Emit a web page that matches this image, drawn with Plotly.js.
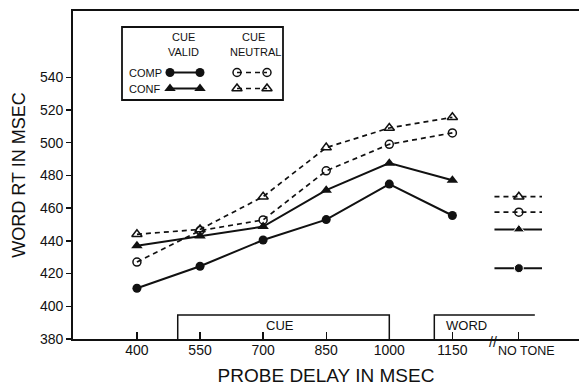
<!DOCTYPE html>
<html>
<head>
<meta charset="utf-8">
<script src="https://cdn.plot.ly/plotly-3.0.1.min.js"></script>
<style>html,body{margin:0;padding:0;background:#fff}#chart{width:579px;height:387px}</style>
</head>
<body>
<div id="chart"></div>
<script>
// ---- data ----
const probeDelays = [400, 550, 700, 850, 1000, 1150];
const noToneX = 1308;
const compValid   = [411, 424.5, 440.5, 453, 474.7, 455.5];
const confValid   = [437, 443, 448.7, 471, 487.5, 477];
const compNeutral = [427, 446.3, 452.8, 482.8, 499, 506];
const confNeutral = [444, 447, 467, 497, 509, 515.5];
const noTone = {compValid: 423.3, confValid: 447, compNeutral: 457.5, confNeutral: 467};
const xTickVals = [400, 550, 700, 850, 1000, 1150, 1308];
const xTickText = ['400', '550', '700', '850', '1000', '1150', ''];
const noToneLabel = 'NO TONE';
const yTickVals = [380, 400, 420, 440, 460, 480, 500, 520, 540];
// event bars under the axis
const cueStart = 497, cueEnd = 1000, wordStart = 1107, wordEnd = 1346, barTop = 394.7;

const FONT = 'Liberation Sans, Arial, sans-serif';
const INK = '#111';

const solid = {color: INK, width: 2};
const dashed = {color: INK, width: 1.7, dash: '5px,4px'};
const mk = {
  compValid: {symbol: 'circle', size: 9, color: INK, opacity: 1},
  confValid: {symbol: 'triangle-up', size: 10, color: INK, opacity: 1},
  compNeutral: {symbol: 'circle-open', size: 8, color: INK, opacity: 1, line: {width: 1.5, color: INK}},
  confNeutral: {symbol: 'triangle-up-open', size: 9, color: INK, opacity: 1, line: {width: 1.5, color: INK}}
};
function main(y, key, line) {
  return {x: probeDelays, y: y, mode: 'lines+markers', line: line, marker: mk[key], showlegend: false, hoverinfo: 'skip', cliponaxis: false};
}
function nt(key, line) {
  const v = noTone[key];
  const m = Object.assign({}, mk[key], {size: [0, mk[key].size, 0], opacity: 1});
  return {x: [noToneX - 58, noToneX, noToneX + 55], y: [v, v, v], mode: 'lines+markers', line: line, marker: m, showlegend: false, hoverinfo: 'skip'};
}
// legend samples on an overlay axis measured in pixels from the plot's top-left
function key(x0, x1, y, k, line) {
  return {x: [x0, x1], y: [y, y], xaxis: 'x2', yaxis: 'y2', mode: 'lines+markers', line: line, marker: mk[k], showlegend: false, hoverinfo: 'skip'};
}
const traces = [
  main(compValid, 'compValid', solid),
  main(confValid, 'confValid', solid),
  main(compNeutral, 'compNeutral', dashed),
  main(confNeutral, 'confNeutral', dashed),
  nt('confNeutral', dashed), nt('compNeutral', dashed), nt('confValid', solid), nt('compValid', solid),
  key(97, 127, 61.5, 'compValid', solid),
  key(97, 127, 77.5, 'confValid', solid),
  key(164, 194, 61.5, 'compNeutral', dashed),
  key(164, 194, 77.5, 'confNeutral', dashed)
];

const ann = (x, y, t, size, extra) => Object.assign({x: x, y: y, text: t, showarrow: false, font: {family: FONT, size: size, color: INK}}, extra || {});
const layout = {
  width: 579, height: 387,
  margin: {l: 73, r: 0, t: 11, b: 48},
  paper_bgcolor: '#fff', plot_bgcolor: '#fff',
  font: {family: FONT, color: INK},
  xaxis: {
    range: [248, 1451], showgrid: false, zeroline: false,
    showline: true, mirror: true, linecolor: INK, linewidth: 1.8,
    ticks: 'inside', ticklen: 7, tickwidth: 1.3, tickcolor: INK,
    tickvals: xTickVals, ticktext: xTickText, ticklabelstandoff: -3,
    tickfont: {family: FONT, size: 14, color: INK},
    title: {text: 'PROBE DELAY IN MSEC', font: {family: FONT, size: 19, color: INK}, standoff: 12}
  },
  yaxis: {
    range: [380, 580.5], showgrid: false, zeroline: false,
    showline: true, linecolor: INK, linewidth: 1.8,
    ticks: 'outside', ticklen: 5, tickwidth: 1.3, tickcolor: INK,
    tickvals: yTickVals, tickfont: {family: FONT, size: 14, color: INK},
    title: {text: 'WORD RT IN MSEC', font: {family: FONT, size: 18, color: INK}, standoff: 10}
  },
  xaxis2: {overlaying: 'x', range: [0, 506], visible: false, fixedrange: true},
  yaxis2: {overlaying: 'y', range: [328, 0], visible: false, fixedrange: true},
  shapes: [
    {type: 'path', xref: 'x', yref: 'y', path: `M ${cueStart} 380 L ${cueStart} ${barTop} L ${cueEnd} ${barTop} L ${cueEnd} 380`, line: {color: INK, width: 1.5}},
    {type: 'path', xref: 'x', yref: 'y', path: `M ${wordStart} 380 L ${wordStart} ${barTop} L ${wordEnd} ${barTop}`, line: {color: INK, width: 1.5}},
    {type: 'rect', xref: 'x2', yref: 'y2', x0: 49, x1: 210, y0: 16, y1: 89, line: {color: INK, width: 1.8}}
  ],
  annotations: [
    ann(740, 388, 'CUE', 13, {xref: 'x', yref: 'y'}),
    ann(1184, 388, 'WORD', 13, {xref: 'x', yref: 'y'}),
    ann(1246, 380, '//', 14, {xref: 'x', yref: 'y', yshift: -3}),
    ann(1327, 380, noToneLabel, 12.5, {xref: 'x', yref: 'y', yanchor: 'top', yshift: -3}),
    ann(110, 25.5, 'CUE', 11, {xref: 'x2', yref: 'y2'}),
    ann(110, 41, 'VALID', 11, {xref: 'x2', yref: 'y2'}),
    ann(180, 25.5, 'CUE', 11, {xref: 'x2', yref: 'y2'}),
    ann(182, 41, 'NEUTRAL', 11, {xref: 'x2', yref: 'y2'}),
    ann(72, 61.5, 'COMP', 11, {xref: 'x2', yref: 'y2'}),
    ann(71, 78, 'CONF', 11, {xref: 'x2', yref: 'y2'})
  ]
};
Plotly.newPlot('chart', traces, layout, {staticPlot: true, displayModeBar: false});
</script>
</body>
</html>
